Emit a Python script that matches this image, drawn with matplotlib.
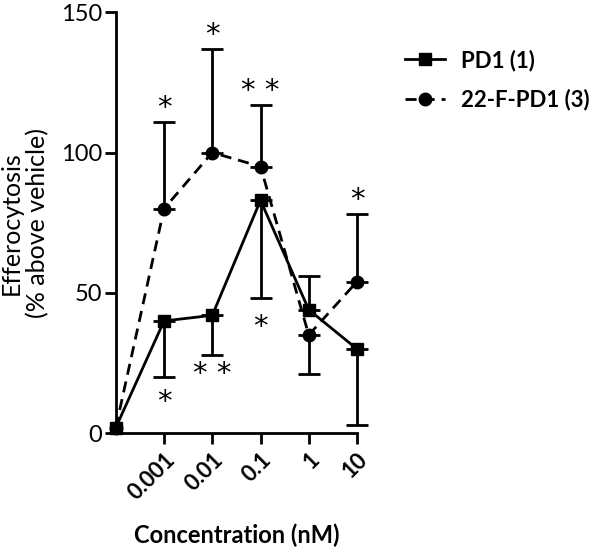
import matplotlib
matplotlib.use("Agg")
import matplotlib.pyplot as plt
from matplotlib.lines import Line2D

# concentrations (first point is vehicle baseline, no label)
conc_labels = ["", "0.001", "0.01", "0.1", "1", "10"]

pd1_mean = [2, 40, 42, 83, 44, 30]
pd1_err_lo = [0, 20, 14, 35, 0, 27]
pd1_err_hi = [0, 0, 0, 0, 12, 0]

f22_mean = [2, 80, 100, 95, 35, 54]
f22_err_lo = [0, 0, 0, 0, 14, 0]
f22_err_hi = [0, 31, 37, 22, 0, 24]

# significance stars: (x index, y value, text)
stars = [(1, 111, "*"), (2, 137, "*"), (3, 117, "* *"), (5, 78, "*"),
         (1, 6, "*"), (2, 16, "* *"), (3, 33, "*")]

plt.rcParams['font.family'] = ['Lato', 'DejaVu Sans']

fig = plt.figure(figsize=(6, 5.54), dpi=100)
ax = fig.add_axes([0.193, 0.218, 0.402, 0.76])

x = list(range(len(conc_labels)))
dash = (0, (4, 2.5))


def draw_errors(mean, lo, hi):
    # only draw bars where there is an error, so no stray caps
    for xi, m, l, h in zip(x, mean, lo, hi):
        if l == 0 and h == 0:
            continue
        ax.errorbar([xi], [m], yerr=[[l], [h]], fmt='none', ecolor='black',
                    elinewidth=2, capsize=8, capthick=2, clip_on=False, zorder=2)


draw_errors(pd1_mean, pd1_err_lo, pd1_err_hi)
draw_errors(f22_mean, f22_err_lo, f22_err_hi)
ax.plot(x, pd1_mean, color='black', lw=2, marker='s', ms=9, clip_on=False, zorder=3)
ax.plot(x, f22_mean, color='black', lw=2, ls=dash, marker='o', ms=9, clip_on=False, zorder=3)

for xi, yv, t in stars:
    ax.text(xi, yv, t, ha='center', va='bottom', fontsize=21, family='DejaVu Sans')

ax.set_xlim(0, 5)
ax.set_ylim(0, 150)
ax.set_yticks([0, 50, 100, 150])
ax.set_xticks(x[1:])
ax.set_xticklabels(conc_labels[1:], rotation=45, ha='right', rotation_mode='anchor',
                   fontsize=16, fontweight='bold')
for lab in ax.get_yticklabels():
    lab.set_fontsize(17)

for s in ['top', 'right']:
    ax.spines[s].set_visible(False)
for s in ['left', 'bottom']:
    ax.spines[s].set_linewidth(2)
ax.tick_params(width=2, length=8)
ax.tick_params(axis='y', pad=2)

ax.set_xlabel("Concentration (nM)", fontsize=17, fontweight='bold', labelpad=14)
ax.set_ylabel("Efferocytosis\n(% above vehicle)", fontsize=18, labelpad=8, linespacing=1.2)

handles = [
    Line2D([], [], color='black', lw=2, marker='s', ms=9),
    Line2D([], [], color='black', lw=2, ls=dash, marker='o', ms=9),
]
fig.legend(handles, ["PD1 (1)", "22-F-PD1 (3)"], loc='upper left', bbox_to_anchor=(0.642, 0.947),
           frameon=False, prop={'size': 16, 'weight': 'bold'}, handlelength=1.8,
           labelspacing=0.8, handletextpad=0.7)

fig.savefig("out.png", dpi=100)
